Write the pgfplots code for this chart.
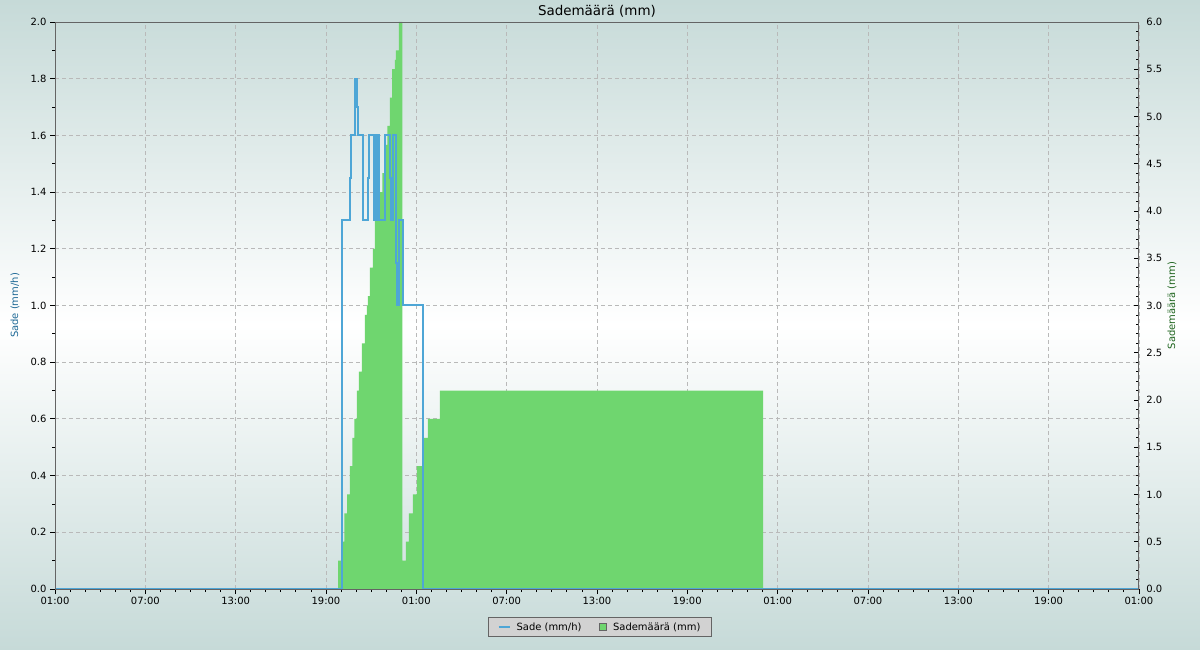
\documentclass[border=0pt]{standalone}
\usepackage{pgfplots}
\pgfplotsset{compat=1.18}
\usepackage{fontspec}
\setmainfont{DejaVu Sans}
\definecolor{bgc}{RGB}{198,218,216}
\definecolor{sadeblue}{RGB}{78,166,214}
\definecolor{sgreen}{RGB}{111,214,111}
\definecolor{axisgray}{RGB}{100,100,100}
\definecolor{gridgray}{RGB}{185,185,185}
\definecolor{lblblue}{RGB}{30,105,150}
\definecolor{lblgreen}{RGB}{30,100,30}
\definecolor{legfill}{RGB}{210,210,210}
\begin{document}
\begin{tikzpicture}
\useasboundingbox (0bp,0bp) rectangle (1200bp,650bp);
\shade[top color=bgc, bottom color=bgc, middle color=white] (0bp,0bp) rectangle (1200bp,650bp);
\begin{axis}[
  at={(55bp,61bp)}, anchor=south west, scale only axis,
  width=1084bp, height=567bp,
  xmin=0, xmax=72, ymin=0, ymax=2,
  axis line style={draw=axisgray, line width=0.9bp},
  xtick={0,6,...,72},
  xticklabels={01:00,07:00,13:00,19:00,01:00,07:00,13:00,19:00,01:00,07:00,13:00,19:00,01:00},
  minor x tick num=5,
  ytick={0,0.2,...,2.01},
  minor y tick num=1,
  xtick pos=bottom, ytick pos=left,
  tick align=outside,
  major tick length=5bp, minor tick length=3bp,
  every tick/.style={black, line width=0.8bp},
  grid=major,
  major grid style={gridgray, dash pattern=on 4bp off 3bp, line width=0.8bp},
  yticklabel style={/pgf/number format/.cd, fixed, fixed zerofill, precision=1},
  /pgf/number format/assume math mode=true,
  tick label style={font=\fontsize{10}{12}\selectfont},
  ylabel={Sade (mm/h)},
  ylabel style={at={(axis description cs:-0.0369,0.5)}, anchor=center, font=\fontsize{10}{12}\selectfont, text=lblblue},
  title={Sademäärä (mm)},
  every axis title shift=0pt,
  title style={at={(axis description cs:0.5,1)}, anchor=center, yshift=11bp, font=\fontsize{13.5}{15}\selectfont},
  legend columns=2,
  legend style={at={(axis description cs:0.5028,-0.067)}, anchor=center, fill=legfill, draw=axisgray, line width=0.6bp,
    font=\fontsize{10}{12}\selectfont, inner xsep=9bp, inner ysep=3bp,
    /tikz/every odd column/.append style={column sep=4bp},
    /tikz/every even column/.append style={column sep=16bp}},
]
% Sademäärä (mm), cumulative, right-axis values (scaled 1/3 onto left axis)
\addplot[const plot, fill=sgreen, draw=none, forget plot, y filter/.expression={y/3}] coordinates {
(18.80,0.3)(19.08,0.5)(19.22,0.8)(19.41,1.0)(19.59,1.3)(19.75,1.6)(19.88,1.8)
(20.06,2.1)(20.19,2.3)(20.39,2.6)(20.59,2.9)(20.72,3.0)(20.79,3.1)(20.92,3.4)
(21.12,3.6)(21.25,3.9)(21.54,4.2)(21.74,4.4)(21.87,4.7)(22.07,4.9)(22.25,5.2)
(22.40,5.5)(22.58,5.6)(22.65,5.7)(22.85,6.0)(23.08,0.3)(23.31,0.5)(23.51,0.8)
(23.78,1.0)(24.04,1.3)(24.51,1.6)(24.77,1.8)(25.57,2.1)(47.03,0)
} \closedcycle;
% Sade (mm/h)
\addplot[const plot, draw=sadeblue, line width=2bp, forget plot] coordinates {
(0,0)(19.06,1.3)(19.59,1.45)(19.66,1.6)(19.93,1.8)(20.06,1.7)(20.13,1.6)
(20.46,1.3)(20.79,1.45)(20.86,1.6)(21.19,1.3)(21.23,1.6)(21.41,1.3)(21.45,1.6)
(21.52,1.3)(21.92,1.6)(22.25,1.45)(22.30,1.3)(22.45,1.6)(22.65,1.15)(22.72,1.0)
(22.88,1.3)(23.11,1.0)(24.42,0)(72,0)
};
\addlegendimage{legend image code/.code={\draw[sadeblue, line width=2bp] (0bp,0bp) -- (11bp,0bp);}}
\addlegendentry{Sade (mm/h)}
\addlegendimage{legend image code/.code={\draw[fill=sgreen, draw=axisgray, line width=0.6bp] (3bp,-3.5bp) rectangle (10bp,3.5bp);}}
\addlegendentry{Sademäärä (mm)}
\end{axis}
\begin{axis}[
  at={(55bp,61bp)}, anchor=south west, scale only axis,
  width=1084bp, height=567bp,
  xmin=0, xmax=72, ymin=0, ymax=6,
  axis line style={draw=axisgray, line width=0.9bp},
  xtick=\empty,
  ytick={0,0.5,...,6.01},
  minor y tick num=4,
  ytick pos=right,
  tick align=inside,
  major tick length=5bp, minor tick length=3bp,
  every tick/.style={black, line width=0.8bp},
  yticklabel style={xshift=4bp, /pgf/number format/.cd, fixed, fixed zerofill, precision=1},
  /pgf/number format/assume math mode=true,
  tick label style={font=\fontsize{10}{12}\selectfont},
  ylabel={Sademäärä (mm)},
  ylabel style={at={(axis description cs:1.0305,0.5)}, anchor=center, rotate=0, font=\fontsize{10}{12}\selectfont, text=lblgreen},
]
\addplot[draw=none] coordinates {(0,0)};
\end{axis}
\end{tikzpicture}
\end{document}
